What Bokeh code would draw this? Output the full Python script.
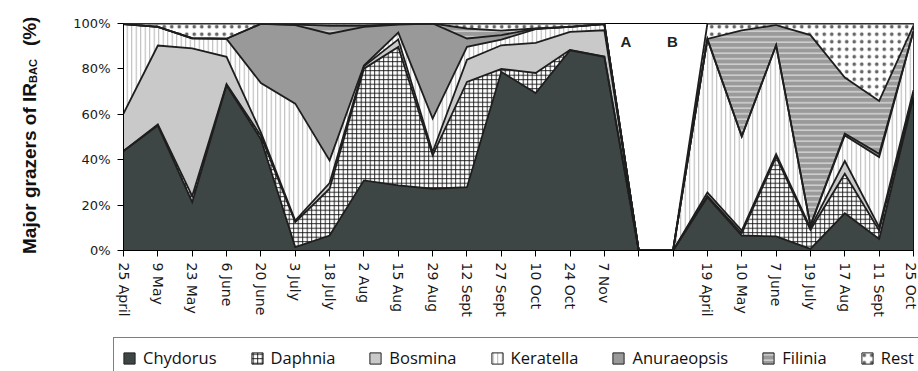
import numpy as np
from math import pi
from bokeh.plotting import figure
from bokeh.layouts import column, row
from bokeh.models import (Range1d, FixedTicker, PrintfTickFormatter, Label,
                          Legend, LegendItem, ColumnDataSource, Div)
from bokeh.embed import file_html
from bokeh.resources import INLINE

# Sampling dates of the two seasons (two empty slots separate them)
dates = ["25 April", "9 May", "23 May", "6 June", "20 June", "3 July", "18 July",
         "2 Aug", "15 Aug", "29 Aug", "12 Sept", "27 Sept", "10 Oct", "24 Oct",
         "7 Nov", "", "", "19 April", "10 May", "7 June", "19 July", "17 Aug",
         "11 Sept", "25 Oct"]

# Share of each grazer group in IR_BAC (%)
chydorus = [43.8, 55.0, 21.3, 72.8, 49.0, 1.5, 6.6, 30.9, 28.7, 27.2, 27.9, 78.7,
            69.4, 88.2, 85.3, 0, 0, 23.5, 6.6, 6.2, 0.7, 16.4, 5.1, 67.6]
daphnia = [0.0, 0.5, 2.7, 0.5, 1.5, 11.0, 20.6, 49.2, 61.0, 14.7, 46.4, 1.3,
           8.8, 0.2, 0.2, 0, 0, 0.5, 1.0, 35.0, 8.4, 17.4, 3.7, 1.5]
bosmina = [16.5, 34.8, 65.0, 12.0, 1.5, 0.7, 2.5, 1.1, 3.3, 1.5, 9.8, 10.4,
           13.3, 7.9, 11.5, 0, 0, 1.5, 1.2, 1.2, 0.9, 5.6, 1.5, 1.5]
keratella = [39.4, 8.2, 4.3, 7.9, 21.8, 51.5, 10.0, 0.3, 3.0, 14.7, 5.6, 2.5,
             6.0, 2.2, 2.7, 0, 0, 67.6, 41.5, 48.0, 1.0, 11.3, 30.9, 26.0]
anuraeopsis = [0.0, 0.0, 0.3, 0.1, 26.0, 34.6, 55.8, 17.0, 3.5, 41.9, 3.7, 2.0,
               0.2, 0.0, 0.0, 0, 0, 0.0, 0.0, 0.0, 0.0, 0.8, 1.4, 0.0]
filinia = [0.0, 0.0, 0.0, 0.0, 0.1, 0.2, 3.5, 0.5, 0.2, 0.0, 4.4, 2.0,
           0.1, 0.0, 0.0, 0, 0, 0.1, 46.7, 8.9, 83.9, 24.7, 23.3, 2.5]
rest = [0.3, 1.5, 6.4, 6.7, 0.1, 0.5, 1.0, 1.0, 0.3, 0.0, 2.2, 3.1,
        2.2, 1.5, 0.3, 0, 0, 6.8, 3.0, 0.7, 5.1, 23.8, 34.1, 0.9]

groups = ["Chydorus", "Daphnia", "Bosmina", "Keratella", "Anuraeopsis", "Filinia", "Rest"]
shares = [chydorus, daphnia, bosmina, keratella, anuraeopsis, filinia, rest]

styles = {
    "Chydorus":    dict(fill_color="#3d4644"),
    "Daphnia":     dict(fill_color="white", hatch_pattern="+", hatch_color="#111111",
                        hatch_scale=4.5, hatch_weight=0.9),
    "Bosmina":     dict(fill_color="#c9c9c9"),
    "Keratella":   dict(fill_color="white", hatch_pattern="|", hatch_color="#b4b4b4",
                        hatch_scale=4.5, hatch_weight=1.0),
    "Anuraeopsis": dict(fill_color="#999999"),
    "Filinia":     dict(fill_color="#9a9a9a", hatch_pattern="-", hatch_color="#d8d8d8",
                        hatch_scale=5.5, hatch_weight=1.4),
    "Rest":        dict(fill_color="white", hatch_pattern=".", hatch_color="#666666",
                        hatch_scale=7.5, hatch_weight=1.0),
}

x = np.arange(len(dates))
tops = np.cumsum(np.array(shares, dtype=float), axis=0)
bottoms = np.vstack([np.zeros(len(dates)), tops[:-1]])

TITLE_W = 70
TOP_H = 335

# ---- main stacked-area chart ----
p = figure(width=918 - TITLE_W, height=TOP_H, output_backend="svg",
           toolbar_location=None,
           x_range=Range1d(0, len(dates) - 1), y_range=Range1d(0, 100),
           min_border_left=122 - TITLE_W, min_border_right=5, min_border_top=23,
           min_border_bottom=TOP_H - 250, background_fill_color="white",
           border_fill_color="white")
p.outline_line_color = "black"
p.outline_line_width = 1
p.grid.visible = False

for i, g in enumerate(groups):
    src = ColumnDataSource(dict(x=x, lo=bottoms[i], hi=tops[i]))
    p.varea(x="x", y1="lo", y2="hi", source=src, **styles[g])

for i in range(len(groups)):
    p.line(x, tops[i], line_color="#1e1e1e", line_width=1.8, line_join="miter")

p.xaxis.ticker = FixedTicker(ticks=list(range(len(dates))))
p.xaxis.major_label_overrides = {i: d for i, d in enumerate(dates)}
p.xaxis.major_label_orientation = -pi / 2
p.xaxis.major_label_text_font = "DejaVu Sans"
p.xaxis.major_label_text_font_size = "14px"
p.xaxis.major_label_text_color = "#1a1a1a"
p.xaxis.major_label_standoff = 6
p.yaxis.ticker = FixedTicker(ticks=[0, 20, 40, 60, 80, 100])
p.yaxis.formatter = PrintfTickFormatter(format="%d%%")
p.yaxis.major_label_text_font = "DejaVu Sans"
p.yaxis.major_label_text_font_size = "13px"
p.yaxis.major_label_text_color = "#1a1a1a"
p.yaxis.major_label_standoff = 7
for ax in (p.xaxis, p.yaxis):
    ax.axis_line_color = "black"
    ax.major_tick_line_color = "black"
    ax.major_tick_out = 6
    ax.major_tick_in = 0
    ax.minor_tick_line_color = None

# season markers
px_per_x = 791 / (len(dates) - 1)
for t, xp in (("A", 625), ("B", 671.7)):
    p.add_layout(Label(x=(xp - 122) / px_per_x, y=(250 - 41) / 2.27, text=t,
                       text_font="Liberation Sans", text_font_style="bold",
                       text_font_size="15px", text_color="#222222",
                       text_align="center", text_baseline="middle"))

# ---- rotated y-axis title with subscript ----
title_html = (
    '<div style="position:absolute; left:0; top:0; width:245px; height:26px;'
    ' line-height:26px; white-space:nowrap; transform-origin:0 0;'
    ' transform:translate(17px, 254px) rotate(-90deg);'
    ' font-family:\'Liberation Sans\'; font-weight:bold; font-size:19px; color:#111;">'
    'Major grazers of IR<span style="font-size:11px; position:relative; top:1px;">BAC</span>'
    '<span style="margin-left:13px;">(%)</span></div>'
)
title_div = Div(text=title_html, width=TITLE_W, height=TOP_H, margin=(0, 0, 0, 0),
                styles={"position": "relative", "overflow": "visible"})

# ---- legend strip ----
LEG_H = 371 - TOP_H
lg = figure(width=918, height=LEG_H, output_backend="svg", toolbar_location=None,
            x_range=Range1d(0, 1), y_range=Range1d(0, 1),
            x_axis_type=None, y_axis_type=None, min_border=0,
            background_fill_color="white", border_fill_color="white")
lg.outline_line_color = None
lg.grid.visible = False
items = []
for g in groups:
    # swatch renderers sit outside the visible range; only their legend glyphs show
    r = lg.quad(left=[2], right=[3], top=[3], bottom=[2], line_color="#222222",
                line_width=1, **styles[g])
    items.append(LegendItem(label=g, renderers=[r]))
legend = Legend(items=items, orientation="horizontal", location=(113, -7),
                glyph_width=14, glyph_height=14, label_standoff=7, spacing=33,
                padding=8, margin=0, border_line_color="black", border_line_width=1,
                background_fill_color="white", background_fill_alpha=1,
                label_text_font="Open Sans", label_text_font_size="16.5px",
                label_text_color="#111111", label_height=14)
lg.add_layout(legend, "center")

layout = column(row(title_div, p, spacing=0), lg, spacing=0)
open("out.html", "w").write(file_html(layout, INLINE))
